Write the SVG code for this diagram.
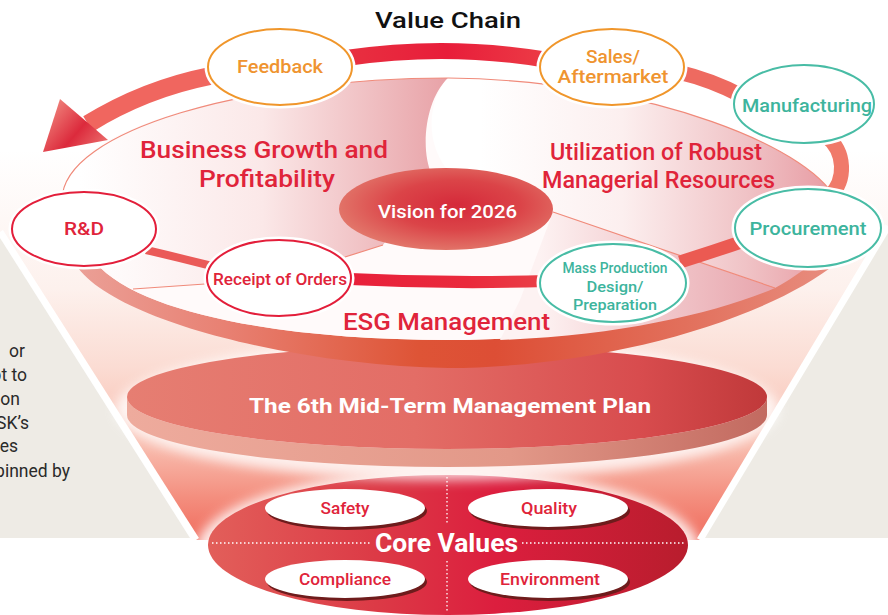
<svg xmlns="http://www.w3.org/2000/svg" width="888" height="615" viewBox="0 0 888 615">
<defs>
<style>
.f{font-family:Roboto,"Liberation Sans","DejaVu Sans",sans-serif}
.m{font-weight:500}
.red{fill:#e0243a}
.org{fill:#ef9430}
.teal{fill:#3db49d}
.wht{fill:#ffffff}
.halo{fill:#fff;stroke:#fff;stroke-width:7}
.node{fill:#fff;stroke-width:2}
.sr{stroke:#e31e3a}
.so{stroke:#f0962b}
.st{stroke:#48bca5}
.thin{fill:none;stroke:#f08a7a;stroke-width:1.2}
.dot{stroke:#fff;stroke-width:1.3;stroke-dasharray:1.5 2.5;fill:none}
.vshadow{fill:#6e1c1c}
.vfill{fill:#fff}
</style>
<linearGradient id="gFunnel" gradientUnits="userSpaceOnUse" x1="0" y1="150" x2="0" y2="545">
<stop offset="0" stop-color="#ffffff"/>
<stop offset="0.35" stop-color="#fdf1ed"/>
<stop offset="0.55" stop-color="#fbdcd3"/>
<stop offset="0.75" stop-color="#f8bcae"/>
<stop offset="0.88" stop-color="#f48e7e"/>
<stop offset="1" stop-color="#ef685a"/>
</linearGradient>
<linearGradient id="gFaceL" gradientUnits="userSpaceOnUse" x1="80" y1="0" x2="445" y2="0">
<stop offset="0" stop-color="#ffffff"/>
<stop offset="0.5" stop-color="#fbe8e8"/>
<stop offset="1" stop-color="#e8a3a8"/>
</linearGradient>
<linearGradient id="gFaceR" gradientUnits="userSpaceOnUse" x1="480" y1="0" x2="835" y2="0">
<stop offset="0" stop-color="#ffffff"/>
<stop offset="0.4" stop-color="#fcefef"/>
<stop offset="0.75" stop-color="#f0c3c6"/>
<stop offset="1" stop-color="#e79aa2"/>
</linearGradient>
<linearGradient id="gFaceLR" gradientUnits="userSpaceOnUse" x1="540" y1="0" x2="790" y2="0">
<stop offset="0" stop-color="#fdf2f2"/>
<stop offset="0.5" stop-color="#f1c6ca"/>
<stop offset="1" stop-color="#e6a0a8"/>
</linearGradient>
<linearGradient id="gRim" gradientUnits="userSpaceOnUse" x1="75" y1="0" x2="838" y2="0">
<stop offset="0" stop-color="#eba097"/>
<stop offset="0.2" stop-color="#e88072"/>
<stop offset="0.45" stop-color="#de5436"/>
<stop offset="0.55" stop-color="#dd4e35"/>
<stop offset="0.8" stop-color="#e2705c"/>
<stop offset="1" stop-color="#e88e80"/>
</linearGradient>
<linearGradient id="gTopBand" gradientUnits="userSpaceOnUse" x1="346" y1="0" x2="548" y2="0">
<stop offset="0" stop-color="#e83040"/>
<stop offset="0.5" stop-color="#e81d3a"/>
<stop offset="1" stop-color="#ec3c46"/>
</linearGradient>
<linearGradient id="gBot" gradientUnits="userSpaceOnUse" x1="350" y1="0" x2="546" y2="0">
<stop offset="0" stop-color="#e8203a"/>
<stop offset="0.6" stop-color="#ea2a3c"/>
<stop offset="1" stop-color="#ea4048"/>
</linearGradient>
<linearGradient id="gHead" gradientUnits="userSpaceOnUse" x1="60" y1="99" x2="108" y2="140">
<stop offset="0" stop-color="#ee7c76"/>
<stop offset="0.55" stop-color="#dc2a3c"/>
<stop offset="1" stop-color="#ea6a6a"/>
</linearGradient>
<radialGradient id="gVision" cx="0.55" cy="0.45" r="0.6">
<stop offset="0" stop-color="#d52a3a"/>
<stop offset="0.5" stop-color="#db4448"/>
<stop offset="1" stop-color="#e37c6e"/>
</radialGradient>
<linearGradient id="gPlanTop" gradientUnits="userSpaceOnUse" x1="127" y1="0" x2="767" y2="0">
<stop offset="0" stop-color="#e67e72"/>
<stop offset="0.45" stop-color="#e36d66"/>
<stop offset="0.8" stop-color="#d84c4e"/>
<stop offset="1" stop-color="#c0393a"/>
</linearGradient>
<linearGradient id="gPlanSide" gradientUnits="userSpaceOnUse" x1="127" y1="0" x2="767" y2="0">
<stop offset="0" stop-color="#eeab9d"/>
<stop offset="0.6" stop-color="#e29888"/>
<stop offset="1" stop-color="#c26a60"/>
</linearGradient>
<linearGradient id="gCore" gradientUnits="userSpaceOnUse" x1="208" y1="0" x2="688" y2="0">
<stop offset="0" stop-color="#e25f5a"/>
<stop offset="0.35" stop-color="#dc3a46"/>
<stop offset="0.6" stop-color="#dc1e3e"/>
<stop offset="1" stop-color="#b81d2d"/>
</linearGradient>
<filter id="blur" x="-20%" y="-40%" width="140%" height="180%">
<feGaussianBlur stdDeviation="6"/>
</filter>
</defs>

<rect x="0" y="0" width="888" height="615" fill="#ffffff"/>

<g id="background">
<polygon points="0,140 888,140 888,226 700,540 196,540 0,232" fill="url(#gFunnel)"/>
<line x1="0" y1="232" x2="196" y2="540" stroke="#fff" stroke-width="7"/>
<line x1="888" y1="226" x2="700" y2="540" stroke="#fff" stroke-width="7"/>
<polygon points="0,238 0,538 190,538" fill="#eeebe5"/>
<polygon points="888,233 888,538 705,538" fill="#eeebe5"/>
</g>

<g id="side-text" class="f" font-size="17.5" fill="#2a2a2a" text-anchor="end">
<text x="25" y="357">or</text>
<text x="27" y="381">pt to</text>
<text x="20" y="405">on</text>
<text x="29" y="429">SK’s</text>
<text x="18" y="452">es</text>
<text x="70" y="477">pinned by</text>
</g>

<g id="core-values">
<ellipse cx="448" cy="550" rx="252" ry="80" fill="#fff" opacity="0.85" filter="url(#blur)"/>
<ellipse cx="448" cy="545" rx="240" ry="70" fill="url(#gCore)"/>
<path class="dot" d="M212,543 H372 M522,543 H684 M447,477 V523 M447,561 V613"/>
<text class="f wht" x="375" y="552" font-size="26" font-weight="bold" textLength="143" lengthAdjust="spacingAndGlyphs">Core Values</text>
</g>

<g id="v-safety">
<ellipse class="vshadow" cx="347" cy="511" rx="80" ry="19"/>
<ellipse class="vfill" cx="345" cy="508" rx="80" ry="19"/>
<text class="f m red" x="345" y="514" font-size="16" text-anchor="middle" textLength="49" lengthAdjust="spacingAndGlyphs">Safety</text>
</g>
<g id="v-quality">
<ellipse class="vshadow" cx="550" cy="511" rx="80" ry="19"/>
<ellipse class="vfill" cx="548" cy="508" rx="80" ry="19"/>
<text class="f m red" x="549" y="514" font-size="16" text-anchor="middle" textLength="56" lengthAdjust="spacingAndGlyphs">Quality</text>
</g>
<g id="v-compliance">
<ellipse class="vshadow" cx="347" cy="582" rx="80" ry="19"/>
<ellipse class="vfill" cx="345" cy="579" rx="80" ry="19"/>
<text class="f m red" x="345" y="585" font-size="16" text-anchor="middle" textLength="92" lengthAdjust="spacingAndGlyphs">Compliance</text>
</g>
<g id="v-environment">
<ellipse class="vshadow" cx="550" cy="582" rx="80" ry="19"/>
<ellipse class="vfill" cx="548" cy="579" rx="80" ry="19"/>
<text class="f m red" x="550" y="585" font-size="16" text-anchor="middle" textLength="100" lengthAdjust="spacingAndGlyphs">Environment</text>
</g>

<g id="plan">
<ellipse cx="447" cy="410" rx="332" ry="70" fill="#fff" opacity="0.8" filter="url(#blur)"/>
<path d="M127,397 A320,52 0 0 0 767,397 L767,415 A320,52 0 0 1 127,415 Z" fill="url(#gPlanSide)"/>
<ellipse cx="447" cy="397" rx="320" ry="52" fill="url(#gPlanTop)"/>
<text class="f wht" x="249" y="413" font-size="21" font-weight="bold" textLength="402" lengthAdjust="spacingAndGlyphs">The 6th Mid-Term Management Plan</text>
</g>

<g id="esg-tier">
<path d="M72,258 C100,320 300,366 448,368 C590,368 760,325 838,262 L815,262 C740,300 620,340 448,340 C290,340 140,315 95,262 Z" fill="url(#gRim)"/>
<path d="M62,195 C62,130 250,78 448,78 C650,80 820,150 838,205 C838,228 830,248 815,262 C740,300 620,340 448,340 C290,340 140,315 95,262 C75,240 62,220 62,195 Z" fill="#fffafa"/>
<path d="M62,195 C62,130 250,78 448,78 C425,100 420,150 432,175 L383,245 L345,257 C300,270 230,282 205,284 L133,289 C100,270 62,230 62,195 Z" fill="url(#gFaceL)"/>
<path d="M448,78 C650,80 820,150 838,205 C838,228 830,248 815,262 C800,272 790,280 775,288 L553,212 L446,168 C425,140 428,100 448,78 Z" fill="url(#gFaceR)"/>
<path d="M553,212 L775,288 C720,312 620,336 500,340 L520,300 Z" fill="url(#gFaceLR)"/>
<path class="thin" d="M62,200 C62,130 250,78 448,78 C650,80 820,150 838,205"/>
<path class="thin" d="M553,212 L775,288 M133,289 L205,284 M345,257 L383,245"/>
<text class="f m red" x="343" y="330" font-size="24" textLength="207" lengthAdjust="spacingAndGlyphs">ESG Management</text>
</g>

<g id="vision">
<ellipse cx="446" cy="209" rx="107" ry="41" fill="url(#gVision)"/>
<text class="f m wht" x="378" y="218" font-size="18" textLength="139" lengthAdjust="spacingAndGlyphs">Vision for 2026</text>
</g>

<g id="connectors" fill="none">
<path d="M210,76 C170,84 130,98 88,124" stroke="#f0665f" stroke-width="18"/>
<polygon points="60,99 43,152 108,140" fill="url(#gHead)" stroke="none"/>
<path d="M346,58 Q448,43 548,60" stroke="url(#gTopBand)" stroke-width="16"/>
<path d="M678,72 Q712,80 742,96" stroke="#ee6a60" stroke-width="15"/>
<path d="M826,136 C846,152 846,180 830,196" stroke="#f07a6a" stroke-width="15"/>
<path d="M744,241 Q712,252 680,262" stroke="#eb5a52" stroke-width="13"/>
<path d="M546,281 Q448,284 350,279" stroke="url(#gBot)" stroke-width="12"/>
<path d="M212,266 Q180,258 146,250" stroke="#ea5a58" stroke-width="8"/>
</g>

<g id="n-feedback">
<ellipse class="halo" cx="280" cy="67" rx="72" ry="38"/>
<ellipse class="node so" cx="280" cy="67" rx="72" ry="38"/>
<text class="f m org" x="280" y="73" font-size="18" text-anchor="middle" textLength="86" lengthAdjust="spacingAndGlyphs">Feedback</text>
</g>
<g id="n-sales">
<ellipse class="halo" cx="612" cy="67" rx="72" ry="38"/>
<ellipse class="node so" cx="612" cy="67" rx="72" ry="38"/>
<text class="f m org" x="613" y="63" font-size="18" text-anchor="middle" textLength="54" lengthAdjust="spacingAndGlyphs">Sales/</text>
<text class="f m org" x="613" y="83" font-size="18" text-anchor="middle" textLength="111" lengthAdjust="spacingAndGlyphs">Aftermarket</text>
</g>
<g id="n-manufacturing">
<ellipse class="halo" cx="804" cy="104" rx="70" ry="39"/>
<ellipse class="node st" cx="804" cy="104" rx="70" ry="39"/>
<text class="f m teal" x="807" y="112" font-size="18" text-anchor="middle" textLength="130" lengthAdjust="spacingAndGlyphs">Manufacturing</text>
</g>
<g id="n-procurement">
<ellipse class="halo" cx="808" cy="228" rx="73" ry="39"/>
<ellipse class="node st" cx="808" cy="228" rx="73" ry="39"/>
<text class="f m teal" x="808" y="235" font-size="18" text-anchor="middle" textLength="117" lengthAdjust="spacingAndGlyphs">Procurement</text>
</g>
<g id="n-mass">
<ellipse class="halo" cx="613" cy="283" rx="73" ry="39"/>
<ellipse class="node st" cx="613" cy="283" rx="73" ry="39"/>
<text class="f m teal" x="615" y="273" font-size="15.5" text-anchor="middle" textLength="105" lengthAdjust="spacingAndGlyphs">Mass Production</text>
<text class="f m teal" x="615" y="292" font-size="15.5" text-anchor="middle" textLength="57" lengthAdjust="spacingAndGlyphs">Design/</text>
<text class="f m teal" x="615" y="310" font-size="15.5" text-anchor="middle" textLength="84" lengthAdjust="spacingAndGlyphs">Preparation</text>
</g>
<g id="n-receipt">
<ellipse class="halo" cx="279" cy="278" rx="72" ry="38"/>
<ellipse class="node sr" cx="279" cy="278" rx="72" ry="38"/>
<text class="f m red" x="280" y="285" font-size="17" text-anchor="middle" textLength="134" lengthAdjust="spacingAndGlyphs">Receipt of Orders</text>
</g>
<g id="n-rd">
<ellipse class="halo" cx="84" cy="229" rx="72" ry="37"/>
<ellipse class="node sr" cx="84" cy="229" rx="72" ry="37"/>
<text class="f m red" x="84" y="235" font-size="18" text-anchor="middle" textLength="40" lengthAdjust="spacingAndGlyphs">R&amp;D</text>
</g>

<g id="labels">
<text class="f m" x="375" y="28" font-size="22" fill="#111" textLength="146" lengthAdjust="spacingAndGlyphs">Value Chain</text>
<text class="f m red" x="140" y="158" font-size="24" textLength="248" lengthAdjust="spacingAndGlyphs">Business Growth and</text>
<text class="f m red" x="199" y="187" font-size="24" textLength="136" lengthAdjust="spacingAndGlyphs">Profitability</text>
<text class="f m red" x="550" y="160" font-size="24" textLength="212" lengthAdjust="spacingAndGlyphs">Utilization of Robust</text>
<text class="f m red" x="542" y="188" font-size="24" textLength="233" lengthAdjust="spacingAndGlyphs">Managerial Resources</text>
</g>
</svg>
